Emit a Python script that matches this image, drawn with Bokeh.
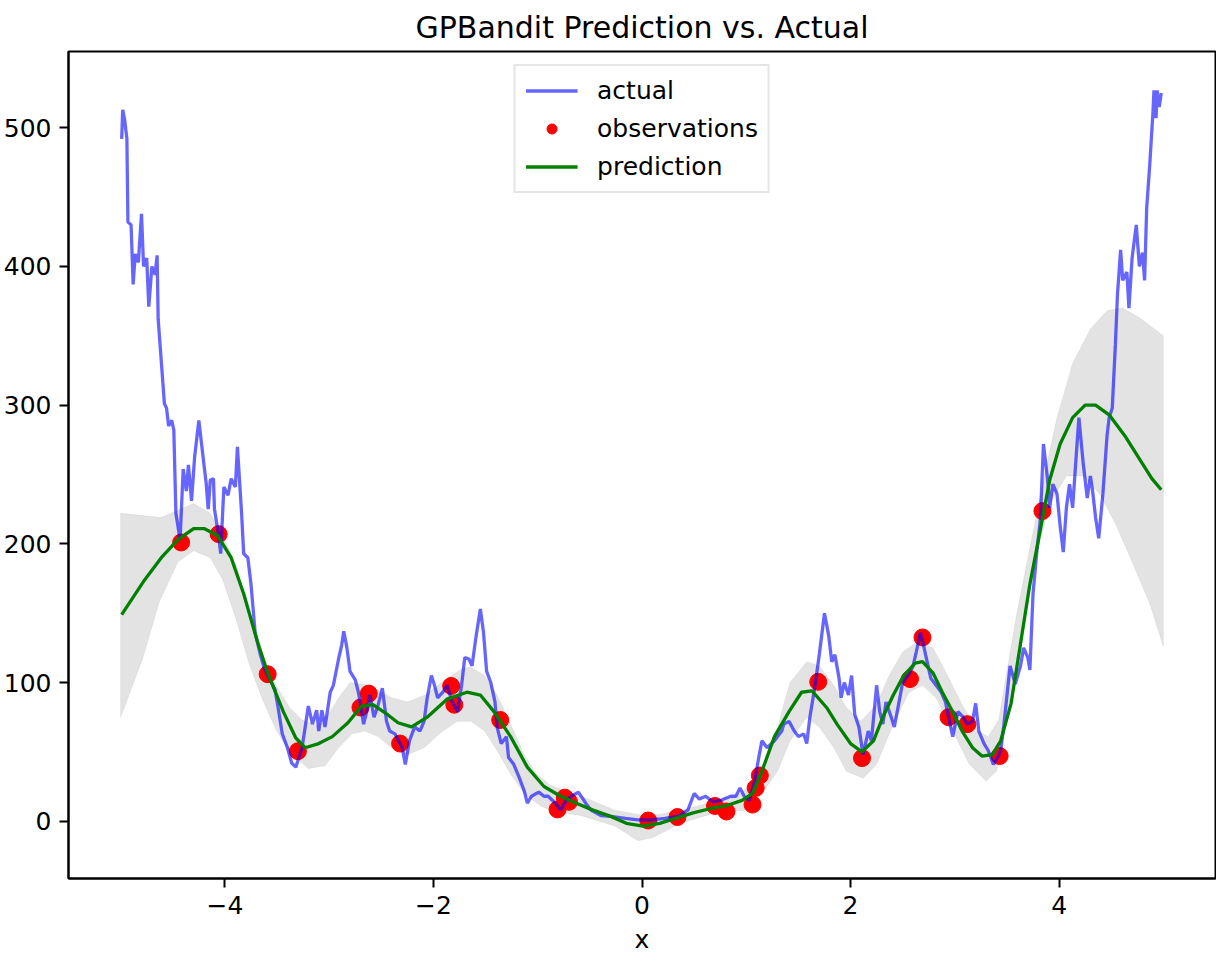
from bokeh.plotting import figure
from bokeh.models import FixedTicker, CustomJSTickFormatter, Legend, LegendItem
from bokeh.embed import file_html
from bokeh.resources import INLINE

# ---------------- data ----------------
actual_x = [-4.99, -4.98, -4.96, -4.94, -4.93, -4.90, -4.88, -4.86, -4.83, -4.80, -4.78, -4.75, -4.73,
            -4.70, -4.67, -4.65, -4.64, -4.58, -4.56, -4.54, -4.51, -4.49, -4.47, -4.43, -4.40, -4.37,
            -4.35, -4.32, -4.29, -4.25, -4.21, -4.18, -4.16, -4.14, -4.11, -4.10, -4.06, -4.04, -4.01,
            -3.97, -3.94, -3.90, -3.88, -3.84, -3.82, -3.78, -3.75, -3.71, -3.66, -3.62, -3.56, -3.52,
            -3.49, -3.45, -3.40, -3.36, -3.32, -3.26, -3.23, -3.20, -3.16, -3.12, -3.10, -3.07, -3.04,
            -2.99, -2.96, -2.91, -2.88, -2.86, -2.83, -2.80, -2.75, -2.72, -2.69, -2.67, -2.64, -2.61,
            -2.57, -2.53, -2.49, -2.45, -2.42, -2.37, -2.30, -2.27, -2.23, -2.18, -2.13, -2.09, -2.06,
            -2.02, -1.99, -1.96, -1.91, -1.87, -1.82, -1.77, -1.73, -1.70, -1.66, -1.63, -1.59, -1.55,
            -1.52, -1.49, -1.45, -1.41, -1.39, -1.35, -1.30, -1.28, -1.23, -1.18, -1.13, -1.10, -1.06,
            -0.99, -0.94, -0.90, -0.83, -0.78, -0.73, -0.68, -0.61, -0.54, -0.49, -0.39, -0.30, -0.16,
            -0.04, 0.09, 0.22, 0.34, 0.44, 0.50, 0.55, 0.61, 0.68, 0.75, 0.85, 0.90, 0.94, 0.98, 1.03,
            1.08, 1.12, 1.15, 1.20, 1.27, 1.34, 1.36, 1.41, 1.46, 1.50, 1.55, 1.58, 1.61, 1.66, 1.70,
            1.75, 1.79, 1.82, 1.85, 1.89, 1.91, 1.94, 1.98, 2.01, 2.04, 2.08, 2.10, 2.12, 2.17, 2.20,
            2.25, 2.28, 2.31, 2.34, 2.39, 2.42, 2.46, 2.50, 2.55, 2.60, 2.63, 2.67, 2.70, 2.72, 2.77,
            2.82, 2.87, 2.91, 2.94, 2.98, 3.03, 3.08, 3.12, 3.17, 3.20, 3.23, 3.28, 3.32, 3.37, 3.41,
            3.44, 3.47, 3.53, 3.58, 3.63, 3.66, 3.70, 3.72, 3.75, 3.79, 3.82, 3.85, 3.89, 3.91, 3.94,
            3.98, 4.01, 4.04, 4.07, 4.10, 4.13, 4.16, 4.19, 4.23, 4.27, 4.30, 4.32, 4.35, 4.38, 4.42,
            4.46, 4.48, 4.51, 4.54, 4.56, 4.59, 4.61, 4.65, 4.67, 4.70, 4.74, 4.77, 4.80, 4.82, 4.84,
            4.87, 4.90, 4.91, 4.93, 4.94, 4.96, 4.98]
actual_y = [492, 513, 505, 492, 432, 430, 387, 409, 403, 438, 400, 406, 371,
            400, 394, 408, 362, 301, 298, 285, 289, 282, 222, 203, 254, 238,
            257, 231, 263, 289, 263, 244, 225, 246, 247, 225, 206, 193, 241,
            235, 247, 241, 270, 222, 193, 190, 171, 136, 120, 110, 101, 95,
            82, 63, 53, 42, 39, 53, 68, 83, 70, 80, 65, 80, 68,
            93, 98, 117, 127, 137, 125, 108, 102, 93, 80, 70, 79, 91,
            75, 84, 96, 72, 65, 63, 53, 41, 58, 68, 65, 72, 89,
            105, 98, 89, 93, 98, 86, 79, 98, 118, 117, 112, 134, 153,
            136, 108, 100, 86, 68, 56, 61, 46, 41, 32, 22, 13, 18,
            21, 18, 18, 13, 8, 15, 18, 21, 13, 8, 4, 3.5, 2,
            1, 1, 2, 3.5, 8, 20, 16, 18, 14, 15, 18, 18, 24, 18, 15,
            29, 46, 58, 53, 58, 65, 70, 72, 65, 61, 63, 56, 75, 98, 120,
            150, 134, 115, 120, 103, 89, 100, 91, 105, 77, 68, 58, 48, 65, 58,
            98, 79, 70, 86, 75, 68, 84, 100, 105, 112, 122, 136, 127, 120, 103,
            98, 93, 86, 75, 61, 79, 75, 70, 72, 85, 65, 56, 51, 41, 46,
            51, 69, 112, 99, 112, 125, 118, 109, 164, 197, 217, 272, 246, 226, 243,
            236, 213, 194, 226, 243, 226, 259, 291, 259, 233, 249, 239, 219, 204, 236,
            278, 291, 298, 344, 380, 412, 390, 396, 370, 406, 430, 400, 410, 390, 442,
            474, 511, 527, 507, 527, 515, 525]

obs_x = [-4.42, -4.06, -3.59, -3.30, -2.70, -2.62, -2.32, -1.83, -1.80, -1.36, -0.81, -0.74, -0.70,
         0.06, 0.34, 0.70, 0.81, 1.06, 1.09, 1.13, 1.69, 2.11, 2.57, 2.69, 2.94, 3.12, 3.43, 3.84]
obs_y = [201, 207, 106, 50.5, 82, 92, 56, 97.5, 84, 73, 8.5, 17, 14,
         0.5, 3, 11, 7, 12, 24, 33, 100.5, 45.5, 102.5, 132.5, 75, 70, 47, 223.6]

pred_x = [-4.99, -4.77, -4.61, -4.45, -4.30, -4.20, -4.07, -3.94, -3.82, -3.69, -3.59, -3.44, -3.32,
          -3.23, -3.10, -2.97, -2.82, -2.69, -2.58, -2.46, -2.34, -2.21, -2.06, -1.87, -1.68, -1.55,
          -1.42, -1.26, -1.10, -0.94, -0.78, -0.63, -0.47, -0.30, -0.15, 0.01, 0.17, 0.32, 0.49, 0.65,
          0.80, 0.96, 1.06, 1.15, 1.27, 1.41, 1.53, 1.63, 1.77, 1.87, 2.00, 2.11, 2.22, 2.31, 2.41,
          2.51, 2.62, 2.69, 2.79, 2.88, 2.98, 3.07, 3.17, 3.26, 3.36, 3.44, 3.54, 3.63, 3.72, 3.82,
          3.91, 4.01, 4.13, 4.25, 4.35, 4.48, 4.63, 4.79, 4.89, 4.98]
pred_y = [149, 174, 190, 203, 211, 211, 206, 190, 164, 130, 107, 79, 60,
          53, 56, 61, 71, 83, 84, 78, 71, 68, 75, 88, 93, 91,
          79, 61, 39, 25, 18, 13, 8, 3.5, -1.5, -3.5, -1.5, 2, 6, 9,
          11, 15, 20, 36, 61, 79, 93, 94, 82, 70, 56, 50, 58, 75, 91,
          105, 114, 115, 107, 93, 79, 65, 53, 47, 48, 58, 85, 128, 171, 210,
          246, 272, 291, 300, 300, 293, 278, 259, 247, 239]

upper_x = [-5.00, -4.61, -4.30, -4.14, -4.02, -3.89, -3.77, -3.64, -3.51, -3.38, -3.26, -3.12, -3.00,
           -2.90, -2.80, -2.62, -2.40, -2.25, -2.08, -1.92, -1.73, -1.64, -1.51, -1.39, -1.26, -1.13,
           -1.01, -0.88, -0.58, -0.26, 0.06, 0.37, 0.70, 0.94, 1.13, 1.27, 1.34, 1.42, 1.58, 1.70,
           1.84, 1.96, 2.10, 2.25, 2.37, 2.50, 2.65, 2.79, 2.91, 3.07, 3.22, 3.32, 3.42, 3.59, 3.72,
           3.85, 3.98, 4.13, 4.30, 4.46, 4.61, 4.77, 5.00]
upper_y = [222, 219, 229, 222, 206, 184, 152, 120, 98, 82, 73, 69, 78,
           90, 100, 98, 89, 86, 91, 100, 110, 111, 105, 91, 70, 48,
           34, 26, 18, 8, 3.5, 8, 14, 20, 32, 58, 79, 100, 115, 112,
           98, 82, 72, 84, 105, 122, 130, 125, 108, 84, 65, 61, 73, 148, 197,
           246, 291, 330, 355, 368, 370, 363, 350]
lower_x = [-5.00, -4.79, -4.63, -4.45, -4.30, -4.14, -4.02, -3.89, -3.77, -3.64, -3.51, -3.39, -3.20,
           -3.04, -2.91, -2.78, -2.66, -2.53, -2.40, -2.25, -2.09, -1.93, -1.77, -1.64, -1.51, -1.39,
           -1.26, -1.13, -0.97, -0.88, -0.58, -0.26, -0.04, 0.10, 0.37, 0.70, 0.98, 1.13, 1.30, 1.42,
           1.58, 1.70, 1.84, 1.96, 2.12, 2.25, 2.41, 2.56, 2.69, 2.82, 2.98, 3.14, 3.30, 3.40, 3.53,
           3.66, 3.79, 3.91, 4.07, 4.23, 4.39, 4.55, 4.70, 4.87, 5.00]
lower_y = [75, 117, 158, 187, 195, 190, 174, 145, 114, 88, 66, 51, 38,
           40, 53, 63, 65, 61, 53, 48, 53, 64, 72, 72, 65, 51,
           34, 20, 11, 8, 4, -3.5, -14, -12, -1.5, 6, 8, 18, 36, 58,
           75, 68, 53, 36, 31, 41, 70, 93, 98, 89, 65, 41, 29, 36, 83,
           141, 194, 229, 249, 249, 236, 213, 187, 157, 126]

x_ticks = [-4, -2, 0, 2, 4]
y_ticks = [0, 100, 200, 300, 400, 500]

FONT = "DejaVu Sans"

p = figure(width=1216, height=956, x_range=(-5.5, 5.5), y_range=(-41.3, 555),
           output_backend="svg", toolbar_location=None,
           title="GPBandit Prediction vs. Actual",
           min_border_left=67, min_border_right=1, min_border_top=41, min_border_bottom=78)

p.title.align = "center"
p.title.text_font = FONT
p.title.text_font_size = "30px"
p.title.text_font_style = "normal"
p.title.text_color = "black"
p.title.standoff = 14

p.xgrid.visible = False
p.ygrid.visible = False
p.outline_line_color = "black"
p.outline_line_width = 2
p.background_fill_color = "white"

band_x = upper_x + lower_x[::-1]
band_y = upper_y + lower_y[::-1]
p.patch(band_x, band_y, fill_color="gray", fill_alpha=0.22, line_color="gray", line_alpha=0.1)

r_obs = p.scatter(obs_x, obs_y, size=17, marker="circle", fill_color="red", line_color="red")
r_act = p.line(actual_x, actual_y, line_color="blue", line_alpha=0.6, line_width=3.3)
r_pred = p.line(pred_x, pred_y, line_color="green", line_width=3.3)

for ax in (p.xaxis[0], p.yaxis[0]):
    ax.major_tick_out = 9
    ax.major_tick_in = 0
    ax.minor_tick_out = 0
    ax.minor_tick_in = 0
    ax.major_tick_line_width = 2
    ax.axis_line_width = 2
    ax.major_label_text_font = FONT
    ax.major_label_text_font_size = "25px"
    ax.major_label_text_color = "black"
    ax.major_label_standoff = 8

p.xaxis.ticker = FixedTicker(ticks=x_ticks)
p.yaxis.ticker = FixedTicker(ticks=y_ticks)
p.xaxis.formatter = CustomJSTickFormatter(
    code="return tick < 0 ? '\u2212' + Math.abs(tick) : String(tick);")
p.xaxis.axis_label = "x"
p.xaxis.axis_label_text_font = FONT
p.xaxis.axis_label_text_font_size = "25px"
p.xaxis.axis_label_text_font_style = "normal"
p.xaxis.axis_label_text_color = "black"
p.xaxis.axis_label_standoff = 8

legend = Legend(items=[
    LegendItem(label="actual", renderers=[r_act]),
    LegendItem(label="observations", renderers=[r_obs]),
    LegendItem(label="prediction", renderers=[r_pred]),
], location="top_center")
legend.label_text_font = FONT
legend.label_text_font_size = "25px"
legend.label_text_color = "black"
legend.glyph_width = 52
legend.glyph_height = 25
legend.label_height = 25
legend.label_standoff = 20
legend.spacing = 9
legend.padding = 10
legend.margin = 13
legend.border_line_color = "#cccccc"
legend.border_line_width = 2
legend.background_fill_alpha = 0.8
p.add_layout(legend)

open("out.html", "w").write(file_html(p, INLINE))
